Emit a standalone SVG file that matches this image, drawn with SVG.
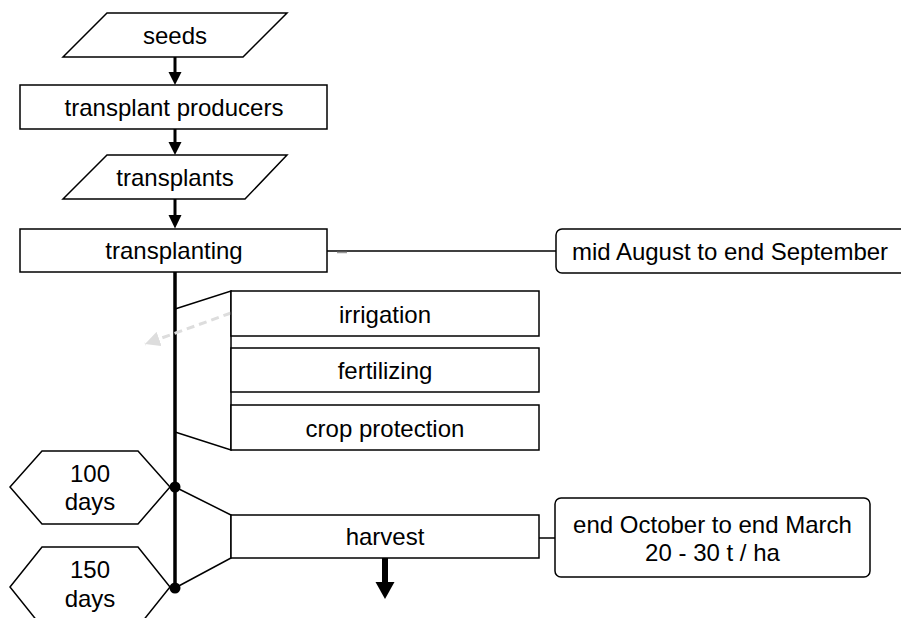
<svg xmlns="http://www.w3.org/2000/svg" width="901" height="618" viewBox="0 0 901 618">
<style>
.n{fill:#fff;stroke:#000;stroke-width:1.5}
.t{font-family:"Liberation Sans",Arial,sans-serif;font-size:24px;fill:#000;text-anchor:middle}
.c{stroke:#000;stroke-width:1.5;fill:none}
.s{stroke:#000;stroke-width:3}
</style>
<defs>
<marker id="ahg" viewBox="0 0 10 10" refX="10" refY="5" markerWidth="5" markerHeight="5" markerUnits="strokeWidth" orient="auto"><path d="M0,0L10,5L0,10Z" fill="#ddd"/></marker>
</defs>
<rect width="901" height="618" fill="#fff"/>
<g id="connectors">
<line class="s" x1="175" y1="57" x2="175" y2="73"/>
<polygon points="168.5,72 181.5,72 175,85" fill="#000"/>
<line class="s" x1="175" y1="129" x2="175" y2="143"/>
<polygon points="168.5,142 181.5,142 175,155" fill="#000"/>
<line class="s" x1="175" y1="199" x2="175" y2="216"/>
<polygon points="168.5,215 181.5,215 175,228.5" fill="#000"/>
<line x1="175" y1="272" x2="175" y2="588" stroke="#000" stroke-width="3.5"/>
<line class="c" x1="327" y1="251" x2="556" y2="251"/>
<line x1="337" y1="252.5" x2="347" y2="252.5" stroke="#999" stroke-width="1.5"/>
<polyline class="c" points="175,309 231,291 231,450 175,432"/>
<polyline class="c" points="175,487 231,515 231,558 175,588"/>
<line x1="539" y1="538" x2="556" y2="538" class="c"/>
<line x1="385" y1="558" x2="385" y2="583" stroke="#000" stroke-width="6"/>
<polygon points="375.5,582 394.5,582 385,599" fill="#000"/>
<line x1="231" y1="313" x2="145" y2="344" stroke="#ddd" stroke-width="3" stroke-dasharray="8,5" marker-end="url(#ahg)"/>
<circle cx="175" cy="487" r="5.5" fill="#000"/>
<circle cx="175" cy="588" r="5.5" fill="#000"/>
</g>
<g id="seeds">
<polygon class="n" points="107,13 287,13 243,57 63,57"/>
<text class="t" x="175" y="44">seeds</text>
</g>
<g id="transplant-producers">
<rect class="n" x="20" y="85" width="307" height="44"/>
<text class="t" x="174" y="116">transplant producers</text>
</g>
<g id="transplants">
<polygon class="n" points="107,155 287,155 245,199 63,199"/>
<text class="t" x="175" y="186">transplants</text>
</g>
<g id="transplanting">
<rect class="n" x="20" y="229" width="307" height="43"/>
<text class="t" x="174" y="259">transplanting</text>
</g>
<g id="note-transplanting">
<rect class="n" x="556" y="229" width="352" height="44" rx="6"/>
<text class="t" x="730" y="260">mid August to end September</text>
</g>
<g id="irrigation">
<rect class="n" x="231" y="291" width="308" height="45"/>
<text class="t" x="385" y="323">irrigation</text>
</g>
<g id="fertilizing">
<rect class="n" x="231" y="348" width="308" height="44"/>
<text class="t" x="385" y="379">fertilizing</text>
</g>
<g id="crop-protection">
<rect class="n" x="231" y="405" width="308" height="45"/>
<text class="t" x="385" y="437">crop protection</text>
</g>
<g id="harvest">
<rect class="n" x="231" y="515" width="308" height="43"/>
<text class="t" x="385" y="545">harvest</text>
</g>
<g id="note-harvest">
<rect class="n" x="555" y="498" width="315" height="79" rx="6"/>
<text class="t" x="712.5" y="533">end October to end March</text>
<text class="t" x="712.5" y="561">20 - 30 t / ha</text>
</g>
<g id="days100">
<polygon class="n" points="10,487 42,451 138,451 170,487 138,524 42,524"/>
<text class="t" x="90" y="482">100</text>
<text class="t" x="90" y="510">days</text>
</g>
<g id="days150">
<polygon class="n" points="10,587 42,547 138,547 170,587 138,627 42,627"/>
<text class="t" x="90" y="578">150</text>
<text class="t" x="90" y="607">days</text>
</g>
</svg>
